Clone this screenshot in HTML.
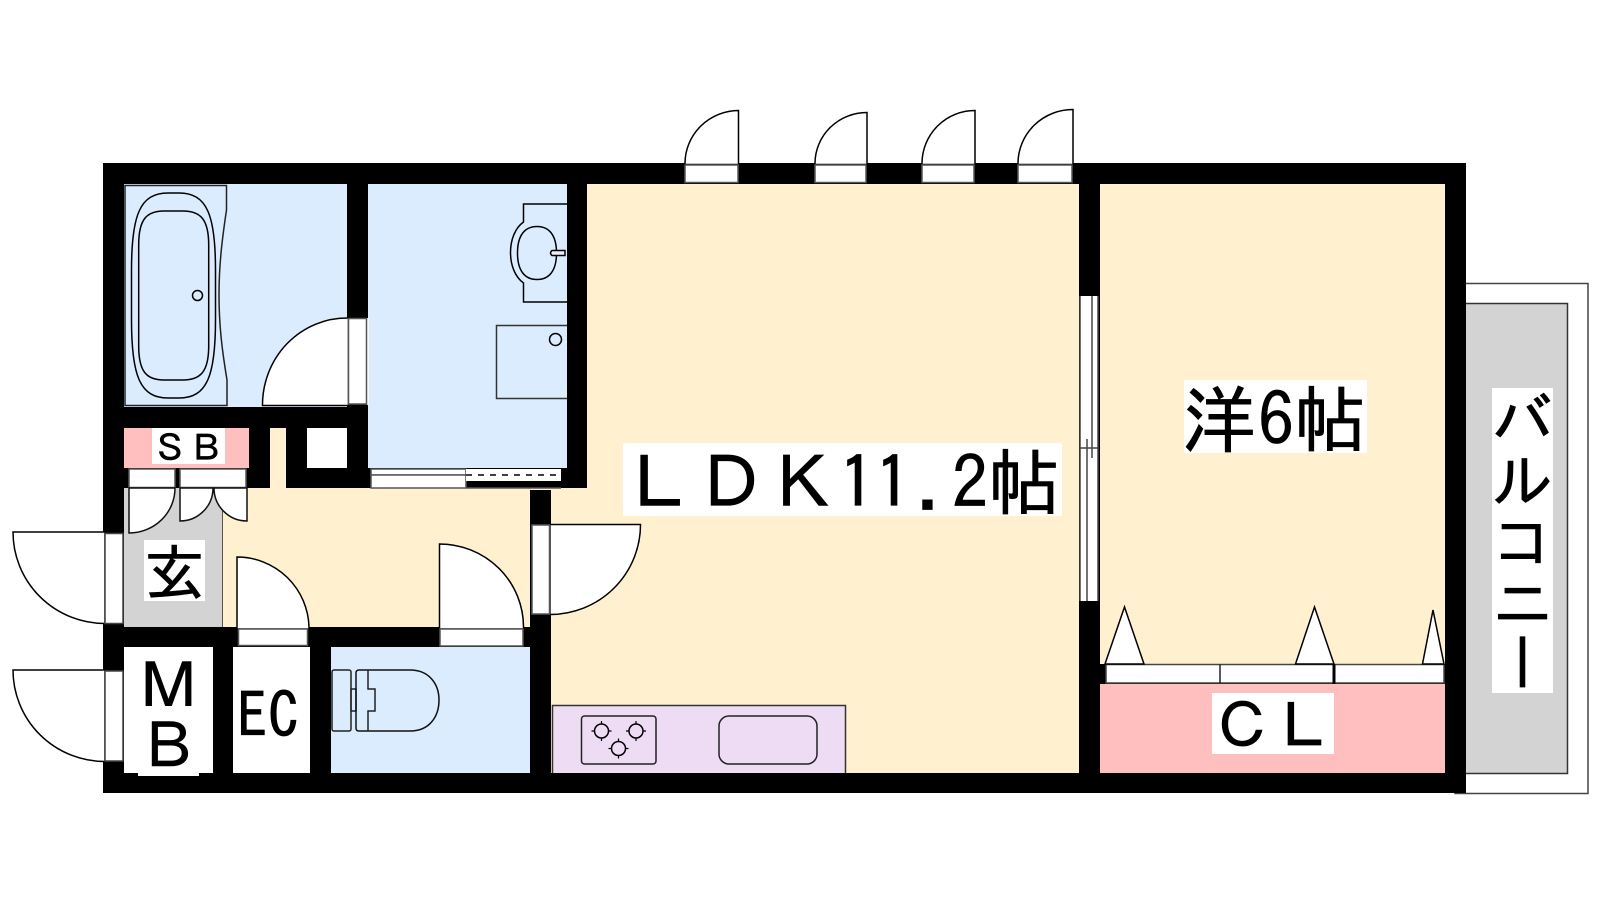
<!DOCTYPE html>
<html><head><meta charset="utf-8"><style>
html,body{margin:0;padding:0;background:#fff;width:1600px;height:900px;overflow:hidden}
svg{position:absolute;left:0;top:0}
text{font-family:"IPAGothic","Liberation Sans","Noto Sans CJK JP",sans-serif;fill:#000;stroke:#000;stroke-width:.7px}
.v{position:absolute;left:1492px;top:388px;width:61px;height:305px;background:#fff;writing-mode:vertical-rl;font:61px/61px "IPAGothic","Noto Sans CJK JP",sans-serif;color:#000;white-space:nowrap;-webkit-text-stroke:.7px #000}
</style></head><body>
<svg width="1600" height="900" viewBox="0 0 1600 900" fill="none" stroke="none">
<!-- balcony -->
<rect x="1455" y="283.500" width="133" height="510" fill="#fff" stroke="#444" stroke-width="1.500"/>
<rect x="1440" y="303.500" width="127.500" height="470" fill="#d3d3d3" stroke="#333" stroke-width="1.500"/>
<!-- walls -->
<rect x="103" y="163" width="1363" height="630" fill="#000"/>
<!-- rooms -->
<rect x="124" y="184" width="223" height="223" fill="#dcecff"/>
<rect x="368" y="184" width="199" height="284" fill="#dcecff"/>
<rect x="587" y="184" width="492" height="589" fill="#fff0d0"/>
<rect x="551" y="490" width="40" height="283" fill="#fff0d0"/>
<rect x="1100" y="184" width="345" height="480" fill="#fff0d0"/>
<rect x="1100" y="684" width="345" height="89" fill="#ffbfbf"/>
<rect x="124" y="428" width="125" height="40" fill="#ffbfbf"/>
<rect x="270" y="428" width="16" height="60" fill="#fff0d0"/>
<rect x="307" y="428" width="40" height="40" fill="#fff"/>
<rect x="222" y="488" width="308" height="139" fill="#fff0d0"/>
<rect x="530" y="488" width="57" height="2" fill="#fff0d0"/>
<rect x="567" y="490" width="20" height="283" fill="#fff0d0"/>
<rect x="124" y="488" width="98" height="139" fill="#d3d3d3"/>
<line x1="222.500" y1="488" x2="222.500" y2="627" stroke="#555" stroke-width="1"/>
<rect x="124" y="647" width="89" height="126" fill="#fff"/>
<rect x="138" y="770" width="61" height="6" fill="#fff"/>
<rect x="233" y="647" width="77" height="126" fill="#fff"/>
<rect x="331" y="647" width="199" height="126" fill="#dcecff"/>
<!-- wall separating LDK & hall -->
<rect x="530" y="490" width="21" height="283" fill="#000"/>
<g stroke="#000" stroke-width="1.500">
<!-- bathtub -->
<path d="M125 185.500H226.500V210C222 240 219 265 219 295C219 325 222 350 227 380V405.500H125Z" stroke="#222" fill="#dcecff"/>
<path d="M131.500 270C131.500 215 140 193 168 193H179C207 193 215.500 215 215.500 270V320C215.500 376 207 398 179 398H168C140 398 131.500 376 131.500 320Z"/>
<path d="M138.700 245C138.700 220 146 211 164 211H183C201 211 208.700 220 208.700 245V346C208.700 371 201 380 183 380H164C146 380 138.700 371 138.700 346Z"/>
<circle cx="197.500" cy="295.500" r="5"/>
<!-- bath door -->
<path d="M262.500 405.500A84.500 87 0 0 1 347 318H348.500V405.500Z" fill="#fff"/>
<rect x="348.500" y="318.500" width="18" height="85.500" fill="#fff" stroke="#555"/>
<rect x="367.200" y="318" width="1.500" height="87" fill="#fff" stroke="none"/>
<!-- sink -->
<path d="M567 204H523.500V222C515 228 510.500 240 510.500 252.500C510.500 265 515 277 523.500 283V302H567" fill="#dcecff"/>
<path d="M517.500 253C517.500 235 525 226.500 537 226.500C549 226.500 556.500 235 556.500 253C556.500 271 549 279.500 537 279.500C525 279.500 517.500 271 517.500 253Z"/>
<path d="M565 250.500H552Q549 253 552 255.500H565Z" fill="#eef"/>
<path d="M567 325.500H496.500V398.500H567" stroke="#333"/>
<circle cx="555.500" cy="339.500" r="6"/>
<!-- sliding door -->
<rect x="371" y="469" width="95" height="6" fill="#fff" stroke="#555"/>
<rect x="371" y="475" width="95" height="13" fill="#fff" stroke="#555"/>
<rect x="466" y="469" width="95" height="12" fill="#fff" stroke="none"/>
<line x1="466" y1="475" x2="561" y2="475" stroke-dasharray="6 6"/>
<line x1="466" y1="488" x2="561" y2="488" stroke="#555"/>
<!-- closet SB doors -->
<rect x="129" y="469" width="46" height="18.500" fill="#fff" stroke="#555"/>
<rect x="180" y="469" width="66" height="18.500" fill="#fff" stroke="#555"/>
<path d="M129 488V533A46 45 0 0 0 175 488Z" fill="#fff" stroke="#111"/>
<path d="M180 488V521A33 33 0 0 0 213 488Z" fill="#fff" stroke="#111"/>
<path d="M247 488V521A33 33 0 0 1 214 488Z" fill="#fff" stroke="#111"/>
<!-- entrance door -->
<path d="M13 532H105V623.500A92 91.500 0 0 1 13 532Z" fill="#fff"/>
<rect x="105" y="533.500" width="18" height="90" fill="#fff" stroke="#444"/>
<!-- MB door -->
<path d="M13 670H105V761.500A92 91.500 0 0 1 13 670Z" fill="#fff"/>
<rect x="105" y="671" width="18" height="90" fill="#fff" stroke="#444"/>
<!-- hall door -->
<path d="M237 629V557A72 72 0 0 1 309 627V629Z" fill="#fff"/>
<rect x="238.500" y="629" width="69" height="16.500" fill="#fff" stroke="#555"/>
<!-- toilet door -->
<path d="M439.500 629V544A84 83 0 0 1 523.500 627V629Z" fill="#fff"/>
<rect x="440" y="629" width="83" height="17" fill="#fff" stroke="#555"/>
<!-- LDK door -->
<path d="M550 524.500H640.500A90.500 90 0 0 1 550 614.500Z" fill="#fff"/>
<rect x="532" y="525" width="17.500" height="89" fill="#fff" stroke="#555"/>
<!-- toilet -->
<rect x="332" y="670" width="19" height="61" rx="2" stroke="#222"/>
<rect x="351" y="689" width="5" height="22" stroke="#222"/>
<path d="M359 670H410C430 670 439 685 439 700C439 716 430 731 410 731H359Q356 731 356 728V673Q356 670 359 670Z" stroke="#111"/>
<path d="M368 670V689H375V711H368V731" stroke="#222"/>
<!-- kitchen -->
<path d="M552.500 773V705.500H845.500V773Z" fill="#eedcf5" stroke="none"/>
<path d="M552.500 773V705.500H845.500V773" stroke="#333"/>
<rect x="581.500" y="716" width="74.500" height="48" rx="3" stroke="#222"/>
<rect x="719" y="716" width="98" height="48" rx="10" stroke="#222"/>
<circle cx="601.500" cy="731" r="7"/><circle cx="636" cy="731" r="7"/><circle cx="618.500" cy="748.500" r="7"/>
<path d="M591.500 731h3M608.500 731h3M601.500 721v3M601.500 738v3M626 731h3M643 731h3M636 721v3M636 738v3M608.500 748.500h3M625.500 748.500h3M618.500 738.500v3M618.500 755.500v3" stroke-width="1.200"/>
<!-- top doors -->
<path d="M685 164.500V163A54 53 0 0 1 738.500 110.500V164.500Z" fill="#fff"/>
<path d="M815 164.500V163A52 51 0 0 1 867 112.500V164.500Z" fill="#fff"/>
<path d="M922 164.500V163A53 53 0 0 1 975 110.500V164.500Z" fill="#fff"/>
<path d="M1018 164.500V163A55 54 0 0 1 1073 109.500V164.500Z" fill="#fff"/>
<rect x="685" y="165" width="53" height="17.500" fill="#fff" stroke="#555"/>
<rect x="815" y="165" width="51" height="17.500" fill="#fff" stroke="#555"/>
<rect x="922" y="165" width="52" height="17.500" fill="#fff" stroke="#555"/>
<rect x="1018" y="165" width="54" height="17.500" fill="#fff" stroke="#555"/>
<!-- window -->
<rect x="1080" y="296" width="18" height="305" fill="#fff" stroke="none"/>
<g stroke="#444">
<path d="M1080 296V601M1098 296V601M1080 448H1098"/>
<path d="M1092 296V458M1087 439V601"/>
</g>
<!-- closet doors -->
<rect x="1106" y="664.500" width="338" height="18.500" fill="#fff" stroke="#444"/>
<path d="M1220 664.500V683" stroke="#222"/>
<path d="M1334 664.500V684" stroke-width="3"/>
<path d="M1105 664L1124.500 607L1144 664Z" fill="#fff"/>
<path d="M1295.500 664L1314.500 607L1334 664Z" fill="#fff"/>
<path d="M1422.500 664L1433 610L1444 664Z" fill="#fff"/>
</g>
<!-- labels -->
<rect x="623" y="443" width="439" height="73" fill="#fff"/>
<text x="623" y="509" font-size="72">ＬＤＫ11</text>
<text x="916" y="509" font-size="72">.2</text>
<text x="988" y="509" font-size="72">帖</text>
<rect x="1184" y="380" width="183" height="73" fill="#fff"/>
<text x="1182" y="447" font-size="74">洋</text>
<text x="1258" y="446" font-size="72">6帖</text>
<rect x="1212" y="693" width="122" height="61" fill="#fff"/>
<text x="1212" y="748" font-size="61">ＣＬ</text>
<rect x="144" y="540" width="61" height="61" fill="#fff"/>
<text x="144" y="595" font-size="61">玄</text>
<rect x="152" y="428" width="73" height="36" fill="#fff"/>
<text x="152" y="461" font-size="36">ＳＢ</text>
<text x="137" y="709" font-size="63">Ｍ</text>
<text x="137" y="769" font-size="63">Ｂ</text>
<text x="237" y="738" font-size="62">EC</text>
</svg>
<div class="v">バルコニー</div>
</body></html>
